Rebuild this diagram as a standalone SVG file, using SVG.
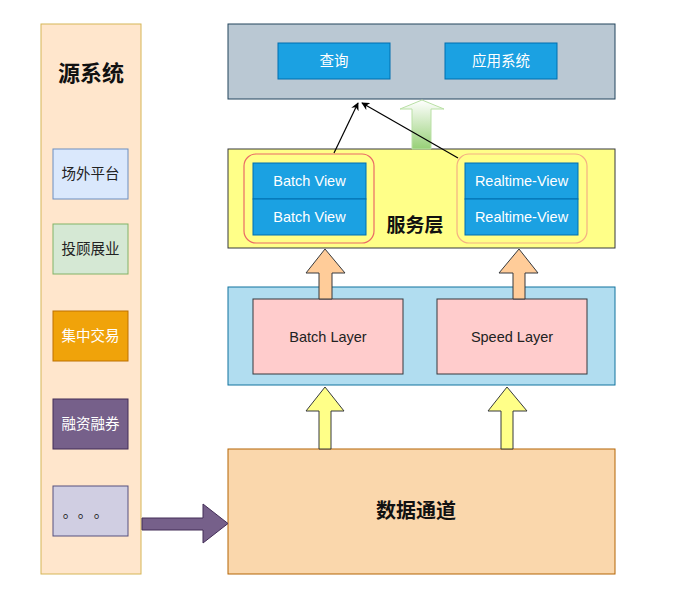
<svg xmlns="http://www.w3.org/2000/svg" width="677" height="606" viewBox="0 0 677 606">
<defs>
<style>
text{font-family:"Liberation Sans","Noto Sans CJK SC",Arial,sans-serif;text-anchor:middle;dominant-baseline:central}
.t14{font-size:14.5px;fill:#222}
.w14{font-size:14.5px;fill:#fff}
.bold{font-weight:bold;fill:#111}
.blue{fill:#1ba1e2;stroke:#006eaf;stroke-width:1}
</style>
<linearGradient id="gg" x1="0" y1="0" x2="0" y2="1">
<stop offset="0" stop-color="#ffffff"/>
<stop offset="1" stop-color="#97d077"/>
</linearGradient>
<marker id="ah" viewBox="0 0 10 10" refX="9" refY="5" markerWidth="8" markerHeight="8" orient="auto" markerUnits="userSpaceOnUse">
<path d="M0,0 L10,5 L0,10 L3,5 Z" fill="#000"/>
</marker>
</defs>
<rect width="677" height="606" fill="#fff"/>

<g id="source">
<rect x="41" y="24" width="100" height="550" fill="#ffe6cc" stroke="#d6b656"/>
<text x="91" y="73" class="bold" font-size="22">源系统</text>
</g>
<g id="s1"><rect x="53" y="149" width="75" height="50" fill="#dae8fc" stroke="#6c8ebf"/><text x="90.5" y="174" class="t14">场外平台</text></g>
<g id="s2"><rect x="53" y="224" width="75" height="50" fill="#d5e8d4" stroke="#82b366"/><text x="90.5" y="249" class="t14">投顾展业</text></g>
<g id="s3"><rect x="53" y="311" width="75" height="50" fill="#f0a30a" stroke="#bd7000"/><text x="90.5" y="336" class="w14">集中交易</text></g>
<g id="s4"><rect x="53" y="399" width="75" height="50" fill="#76608a" stroke="#432d57"/><text x="90.5" y="424" class="w14">融资融券</text></g>
<g id="s5"><rect x="53" y="486" width="75" height="50" fill="#d0cee2" stroke="#56517e"/><text x="70 85 101" y="512" class="t14">。。。</text></g>

<g id="app">
<rect x="228" y="24" width="387" height="75" fill="#bac8d3" stroke="#23445d"/>
<rect x="278" y="43" width="112" height="36" class="blue"/><text x="334" y="61" class="w14">查询</text>
<rect x="445" y="43" width="112" height="36" class="blue"/><text x="501" y="61" class="w14">应用系统</text>
</g>

<g id="serving">
<rect x="228" y="149" width="387" height="99" fill="#ffff88" stroke="#36393d"/>
<rect x="244" y="154" width="130" height="89" rx="12" fill="none" stroke="#ea6b66" stroke-width="1.2"/>
<rect x="253" y="163" width="113" height="36" class="blue"/><text x="309.5" y="181" class="w14">Batch View</text>
<rect x="253" y="199" width="113" height="36" class="blue"/><text x="309.5" y="217" class="w14">Batch View</text>
<rect x="457" y="154" width="130" height="89" rx="12" fill="none" stroke="#f4b183" stroke-width="1.2"/>
<rect x="465" y="163" width="113" height="36" class="blue"/><text x="521.5" y="181" class="w14">Realtime-View</text>
<rect x="465" y="199" width="113" height="36" class="blue"/><text x="521.5" y="217" class="w14">Realtime-View</text>
<text x="415" y="225" class="bold" font-size="19">服务层</text>
</g>

<g id="layers">
<rect x="228" y="287" width="387" height="98" fill="#b1ddf0" stroke="#10739e"/>
<rect x="253" y="299" width="150" height="75" fill="#ffcccc" stroke="#36393d"/><text x="328" y="337" class="t14">Batch Layer</text>
<rect x="437" y="299" width="150" height="75" fill="#ffcccc" stroke="#36393d"/><text x="512" y="337" class="t14">Speed Layer</text>
</g>

<g id="data">
<rect x="228" y="449" width="387" height="125" fill="#fad7ac" stroke="#b46504"/>
<text x="416" y="511" class="bold" font-size="20">数据通道</text>
</g>

<g id="connectors">
<path d="M412,149 L412,109 L400,109 L422,100 L444,109 L431,109 L431,149 Z" fill="url(#gg)" stroke="#b9e0a5"/>
<line x1="334" y1="153" x2="358" y2="103" stroke="#000" stroke-width="1.2" marker-end="url(#ah)"/>
<line x1="458" y1="158" x2="362" y2="103" stroke="#000" stroke-width="1.2" marker-end="url(#ah)"/>
<path d="M319,299 L319,273 L306,273 L325,249 L345,273 L332,273 L332,299 Z" fill="#ffcc99" stroke="#36393d"/>
<path d="M513,299 L513,273 L499,273 L519,249 L538,273 L525,273 L525,299 Z" fill="#ffcc99" stroke="#36393d"/>
<path d="M319,449 L319,411 L306,411 L325,387 L344,411 L331,411 L331,449 Z" fill="#ffff88" stroke="#36393d"/>
<path d="M501,449 L501,411 L488,411 L507,387 L527,411 L513,411 L513,449 Z" fill="#ffff88" stroke="#36393d"/>
<path d="M142,518 L203,518 L203,504 L228,523.5 L203,543 L203,530 L142,530 Z" fill="#76608a" stroke="#432d57"/>
</g>
</svg>
